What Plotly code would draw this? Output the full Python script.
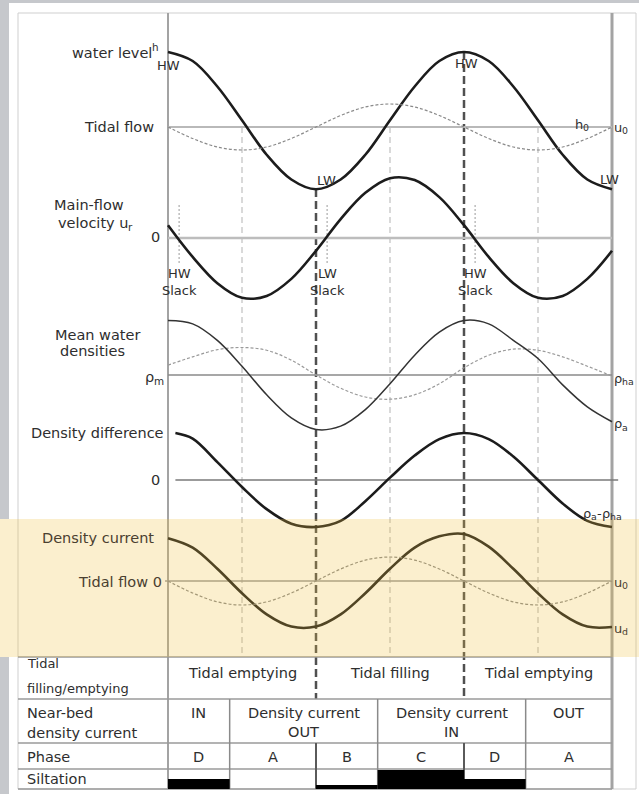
import plotly.graph_objects as go

# ---------------- data (hours after high water, one tide ~12 h) ----------------
hours = list(range(19))

# water level h, relative to mean level h0 (HW = 1)
water_level = [1.00, 0.88, 0.54, 0.09, -0.37, -0.70, -0.83, -0.70, -0.37, 0.09,
               0.54, 0.88, 1.00, 0.88, 0.54, 0.09, -0.37, -0.70, -0.83]
# tidal flow u0 (normalised, ebb negative)
tidal_flow = [0.00, -0.50, -0.87, -1.00, -0.87, -0.50, 0.00, 0.50, 0.87, 1.00,
              0.87, 0.50, 0.00, -0.50, -0.87, -1.00, -0.87, -0.50, 0.00]
# main-flow velocity u_r
main_flow_velocity = [0.21, -0.31, -0.74, -0.98, -0.95, -0.67, -0.21, 0.31, 0.74, 0.98,
                      0.95, 0.67, 0.21, -0.31, -0.74, -0.98, -0.95, -0.67, -0.21]
# mean water densities around rho_m
rho_a = [0.99, 0.93, 0.63, 0.16, -0.36, -0.78, -0.99, -0.93, -0.63, -0.16,
         0.36, 0.78, 0.99, 0.93, 0.63, 0.30, -0.18, -0.58, -0.85]
rho_ha = [0.18, 0.33, 0.46, 0.50, 0.45, 0.27, 0.00, -0.24, -0.40, -0.44,
          -0.36, -0.16, 0.13, 0.36, 0.47, 0.45, 0.33, 0.16, -0.02]
# density difference rho_a - rho_ha
density_diff_hours = [0.3] + list(range(1, 19))
density_diff = [1.00, 0.88, 0.38, -0.15, -0.62, -0.93, -1.00, -0.87, -0.45, 0.05,
                0.52, 0.87, 1.00, 0.87, 0.50, 0.00, -0.50, -0.87, -1.00]
# near-bed density current u_d
density_current = [0.91, 0.71, 0.26, -0.26, -0.71, -0.97, -0.97, -0.71, -0.26, 0.26,
                   0.71, 0.95, 1.00, 0.73, 0.26, -0.26, -0.71, -0.97, -0.98]

hw_hours = [0, 12]
lw_hours = [6, 18]
quarter_hours = [3, 9, 15]
slack_hours = [0.45, 6.45, 12.45]
slack_labels = ["HW", "LW", "HW"]

tide_edges = [0, 6, 12, 18]
tide_labels = ["Tidal emptying", "Tidal filling", "Tidal emptying"]
current_edges = [0, 2.5, 8.5, 14.5, 18]
current_labels = [["IN"], ["Density current", "OUT"], ["Density current", "IN"], ["OUT"]]
phase_edges = [0, 2.5, 6, 8.5, 12, 14.5, 18]
phase_labels = ["D", "A", "B", "C", "D", "A"]
siltation = [0.5, 0.0, 0.2, 0.95, 0.5, 0.0]

# ---------------- geometry ----------------
W, H = 639, 794
X0_PX, PX_PER_HOUR = 168, 444 / 18
FONT = "DejaVu Sans"
INK = "#2e2e2e"
BROWN = "#4a4030"

# DejaVu Sans advance widths (units per 2048 em) for the glyphs set in pieces
ADVANCE = {" ": 651, "-": 739, "0": 1303, "a": 1255, "c": 1126, "d": 1300, "e": 1260,
           "h": 1298, "i": 569, "l": 569, "m": 1995, "o": 1253, "r": 842, "s": 1067,
           "t": 803, "u": 1298, "v": 1212, "w": 1675, "y": 1212, "ρ": 1300}


def text_width(s, size):
    return sum(ADVANCE.get(c, 1250) for c in s) / 2048 * size


def px(p):
    return p / W


def py(p):
    return 1 - p / H


# each band of the diagram gets its own y axis: (pixel row of zero, pixels per unit)
AXES = {
    "y": (127, 75),    # water level
    "y2": (127, 23),   # tidal flow (top)
    "y3": (238, 61),   # main-flow velocity
    "y4": (375, 55),   # mean densities
    "y5": (480, 47),   # density difference
    "y6": (581, 47),   # density current
    "y7": (581, 24),   # tidal flow (bottom)
    "y8": (789, 20),   # siltation
}

layout = dict(
    width=W, height=H, autosize=False,
    margin=dict(l=0, r=0, t=0, b=0),
    paper_bgcolor="#c6c8cc", plot_bgcolor="rgba(0,0,0,0)",
    showlegend=False,
    xaxis=dict(domain=[0, 1], range=[(0 - X0_PX) / PX_PER_HOUR, (W - X0_PX) / PX_PER_HOUR],
               visible=False, fixedrange=True),
)
for name, (zero, s) in AXES.items():
    key = "yaxis" + name[1:]
    ax = dict(domain=[0, 1], range=[(zero - H) / s, zero / s], visible=False,
              anchor="x", fixedrange=True)
    if name != "y":
        ax["overlaying"] = "y"
    layout[key] = ax

fig = go.Figure(layout=layout)


def curve(x, y, axis, color, width, dash="solid"):
    fig.add_trace(go.Scatter(x=x, y=y, yaxis=axis, mode="lines", hoverinfo="skip",
                             line=dict(color=color, width=width, dash=dash,
                                       shape="spline", smoothing=1.0)))


curve(hours, tidal_flow, "y2", "#8a8a8a", 1.2, "3px,2px")
curve(hours, water_level, "y", "#1c1c1c", 2.6)
curve(hours, main_flow_velocity, "y3", "#1c1c1c", 2.6)
curve(hours, rho_ha, "y4", "#9a9a9a", 1.2, "3px,2px")
curve(hours, rho_a, "y4", "#333333", 1.5)
curve(density_diff_hours, density_diff, "y5", "#1c1c1c", 2.6)
curve(hours, tidal_flow, "y7", "#8a8a8a", 1.2, "3px,2px")
curve(hours, density_current, "y6", "#1c1c1c", 2.6)

# siltation bars per phase
centers = [(a + b) / 2 for a, b in zip(phase_edges[:-1], phase_edges[1:])]
widths = [b - a for a, b in zip(phase_edges[:-1], phase_edges[1:])]
fig.add_trace(go.Bar(x=centers, y=siltation, width=widths, base=0, yaxis="y8",
                     marker=dict(color="#000000", line=dict(width=0)), hoverinfo="skip"))

shapes = []


def rect_px(x0, y0, x1, y1, layer="below", **kw):
    shapes.append(dict(type="rect", xref="paper", yref="paper", x0=px(x0), x1=px(x1),
                       y0=py(y0), y1=py(y1), layer=layer, **kw))


def hline_px(y, x0, x1, color, width):
    shapes.append(dict(type="line", xref="paper", yref="paper", x0=px(x0), x1=px(x1),
                       y0=py(y), y1=py(y), line=dict(color=color, width=width), layer="below"))


def vline_t(t, y0, y1, color, width, dash="solid"):
    shapes.append(dict(type="line", xref="x", yref="paper", x0=t, x1=t, y0=py(y0), y1=py(y1),
                       line=dict(color=color, width=width, dash=dash), layer="below"))


def zero_line(axis, t0, t1, color, width):
    shapes.append(dict(type="line", xref="x", yref=axis, x0=t0, x1=t1, y0=0, y1=0,
                       line=dict(color=color, width=width), layer="below"))


# page and frame
rect_px(9, 3, W + 2, H + 2, fillcolor="#ffffff", line=dict(width=0))
rect_px(-2, 519, 9, 657, fillcolor="#ffffff", line=dict(width=0))
rect_px(18, 13, 636, 789, fillcolor="rgba(0,0,0,0)", line=dict(color="#cfcfcf", width=1))

# zero / reference lines of each band
zero_line("y2", hours[0], hours[-1], "#b9b9b9", 2)
zero_line("y3", hours[0], hours[-1], "#bdbdbd", 2.5)
zero_line("y4", hours[0], hours[-1], "#8a8a8a", 1.5)
zero_line("y5", density_diff_hours[0], 18.25, "#7a7a7a", 1.5)
zero_line("y7", -0.12, hours[-1], "#9a9a9a", 1.5)

# quarter-tide guides, slack markers, HW / LW guides
for t in quarter_hours:
    vline_t(t, 127, 656, "#b3b3b3", 1, "6px,4px")
for t in slack_hours:
    vline_t(t, 205, 263, "#9a9a9a", 1, "2px,2px")
vline_t(lw_hours[0], 189, 699, "#505050", 2.5, "8px,4px")
vline_t(hw_hours[1], 52, 699, "#505050", 2.5, "8px,4px")

# time axis boundaries
vline_t(hours[0], 13, 789, "#a3a3a3", 2)
vline_t(hours[-1], 13, 789, "#a3a3a3", 3)

# table grid
for y in [657, 699, 743, 769, 789]:
    hline_px(y, 18, 612, "#9a9a9a", 1.5)
for t in current_edges[1:-1]:
    vline_t(t, 699, 789, "#8a8a8a", 1.5)
for t in [lw_hours[0], hw_hours[1]]:
    vline_t(t, 743, 789, "#5a5a5a", 2)

# shaded band (density current / tidal flow)
rect_px(-2, 519, W + 2, 657, layer="above",
        fillcolor="rgba(240,190,60,0.25)", line=dict(width=0))

annotations = []


def label(text, x, y, anchor="right", size=14.5, color=INK, xref="paper"):
    annotations.append(dict(text=text, x=px(x) if xref == "paper" else x, y=py(y),
                            xref=xref, yref="paper", xanchor=anchor, yanchor="middle",
                            showarrow=False, font=dict(family=FONT, size=size, color=color)))


def rich(parts, x, y, anchor="right", size=14.5, color=INK):
    """Lay out a label made of normal / sub / sup pieces side by side."""
    pieces = []
    for text, kind in parts:
        fs = size if kind == "n" else round(size * 0.72, 1)
        dy = 0 if kind == "n" else (0.3 * size if kind == "sub" else -0.42 * size)
        pieces.append((text, fs, dy, text_width(text, fs)))
    total = sum(p[3] for p in pieces)
    cur = x - total if anchor == "right" else (x - total / 2 if anchor == "center" else x)
    for text, fs, dy, w in pieces:
        label(text, cur, y + dy, "left", fs, color)
        cur += w


rich([("water level", "n"), ("h", "sup")], 157, 53)
label("Tidal flow", 156, 127)
label("Main-flow", 52, 205, "left")
rich([("velocity u", "n"), ("r", "sub")], 56, 223, "left")
label("0", 162, 237)
label("Mean water", 53, 335, "left")
label("densities", 58, 351, "left")
rich([("ρ", "n"), ("m", "sub")], 162, 377)
label("Density difference", 166, 433)
label("0", 162, 480)
label("Density current", 156, 538, color=BROWN)
label("Tidal flow 0", 164, 582, color=BROWN)

rich([("h", "n"), ("0", "sub")], 573, 124, "left", 13)
rich([("u", "n"), ("0", "sub")], 612, 127, "left", 13)
rich([("ρ", "n"), ("ha", "sub")], 612, 378, "left", 13)
rich([("ρ", "n"), ("a", "sub")], 612, 424, "left", 13)
rich([("ρ", "n"), ("a", "sub"), ("-", "n"), ("ρ", "n"), ("ha", "sub")], 581, 513, "left", 13)
rich([("u", "n"), ("0", "sub")], 612, 582, "left", 13, BROWN)
rich([("u", "n"), ("d", "sub")], 612, 628, "left", 13, BROWN)

label("HW", 168.5, 65, "center", 13)
label("LW", 326, 180, "center", 13)
label("HW", 466, 63, "center", 13)
label("LW", 609, 179, "center", 13)

for t, name in zip(slack_hours, slack_labels):
    label(name, t, 273, "center", 13, xref="x")
    label("Slack", t, 290, "center", 13, xref="x")

# table text
label("Tidal", 25, 663, "left", 13)
label("filling/emptying", 25, 688, "left", 13)
label("Near-bed", 25, 713, "left")
label("density current", 25, 733, "left")
label("Phase", 25, 757, "left")
label("Siltation", 25, 779, "left")

for a, b, text in zip(tide_edges[:-1], tide_edges[1:], tide_labels):
    label(text, (a + b) / 2, 673, "center", xref="x")
for a, b, lines in zip(current_edges[:-1], current_edges[1:], current_labels):
    for i, line in enumerate(lines):
        label(line, (a + b) / 2, 713 + 19 * i, "center", xref="x")
for a, b, text in zip(phase_edges[:-1], phase_edges[1:], phase_labels):
    label(text, (a + b) / 2, 757, "center", xref="x")

fig.update_layout(shapes=shapes, annotations=annotations)
fig.write_html("out.html", config={"displayModeBar": False, "staticPlot": True})
